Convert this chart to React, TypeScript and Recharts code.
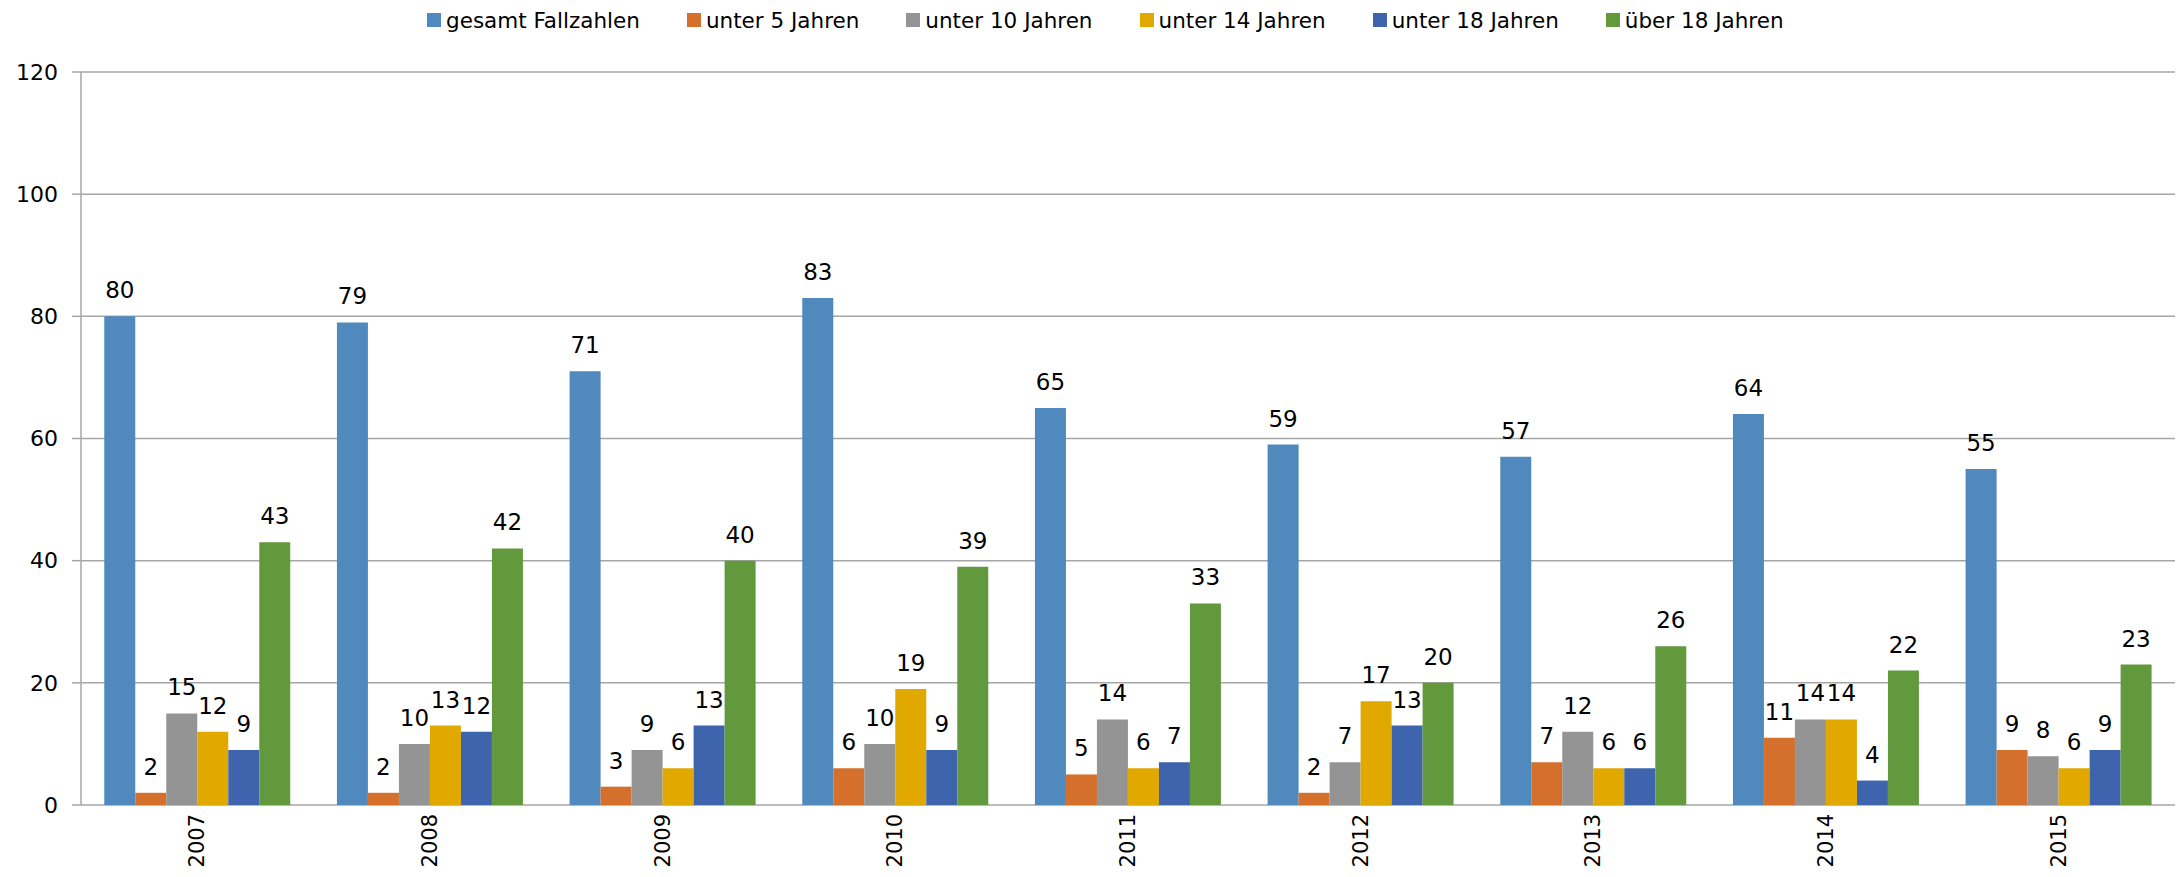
import React from 'react';
import { BarChart, Bar, XAxis, YAxis, CartesianGrid, LabelList } from 'recharts';

const years = ['2007', '2008', '2009', '2010', '2011', '2012', '2013', '2014', '2015'];
const gesamt = [80, 79, 71, 83, 65, 59, 57, 64, 55];
const unter5 = [2, 2, 3, 6, 5, 2, 7, 11, 9];
const unter10 = [15, 10, 9, 10, 14, 7, 12, 14, 8];
const unter14 = [12, 13, 6, 19, 6, 17, 6, 14, 6];
const unter18 = [9, 12, 13, 9, 7, 13, 6, 4, 9];
const ueber18 = [43, 42, 40, 39, 33, 20, 26, 22, 23];
const yTicks = [0, 20, 40, 60, 80, 100, 120];
const boundaryTicks = [0, 1, 2, 3, 4, 5, 6, 7, 8, 9];

const series = [
  { key: 'gesamt', name: 'gesamt Fallzahlen', color: '#4F89BD', values: gesamt },
  { key: 'unter5', name: 'unter 5 Jahren', color: '#D46F2C', values: unter5 },
  { key: 'unter10', name: 'unter 10 Jahren', color: '#949494', values: unter10 },
  { key: 'unter14', name: 'unter 14 Jahren', color: '#E1A900', values: unter14 },
  { key: 'unter18', name: 'unter 18 Jahren', color: '#3D64AD', values: unter18 },
  { key: 'ueber18', name: 'über 18 Jahren', color: '#63993D', values: ueber18 },
];

const data = years.map((year, i) => {
  const row: Record<string, string | number> = { year };
  series.forEach((s) => {
    row[s.key] = s.values[i];
  });
  return row;
});

const FONT = "'DejaVu Sans', Verdana, sans-serif";
const AXIS = '#A6A6A6';

const YearTick = (props: any) => {
  const { x, y, payload } = props;
  return (
    <g transform={`translate(${x},${y})`}>
      <text
        transform="rotate(-90)"
        textAnchor="end"
        dominantBaseline="central"
        fontFamily={FONT}
        fontSize={21}
        fill="#000"
      >
        {payload.value}
      </text>
    </g>
  );
};

const LegendRow = () => (
  <div
    style={{
      position: 'absolute',
      left: 0,
      top: 0,
      width: 2183,
      height: 40,
      display: 'flex',
      alignItems: 'center',
      paddingLeft: 427,
      boxSizing: 'border-box',
      gap: 47,
      fontFamily: FONT,
      fontSize: 21.5,
      color: '#000',
    }}
  >
    {series.map((s) => (
      <div key={s.key} style={{ display: 'flex', alignItems: 'center', whiteSpace: 'nowrap' }}>
        <span style={{ display: 'inline-block', width: 14, height: 14, background: s.color, marginRight: 5 }} />
        <span>{s.name}</span>
      </div>
    ))}
  </div>
);

export default function App() {
  return (
    <div style={{ position: 'absolute', left: 0, top: 0, width: 2183, height: 877, background: '#fff' }}>
      <BarChart
        width={2183}
        height={877}
        data={data}
        margin={{ top: 72, right: 8, bottom: 0, left: 0 }}
        barCategoryGap="10%"
        barGap={0}
      >
        <CartesianGrid xAxisId="cat" vertical={false} stroke={AXIS} strokeWidth={1.5} />
        <XAxis
          xAxisId="edge"
          type="number"
          domain={[0, 9]}
          ticks={boundaryTicks}
          tick={false}
          tickSize={8}
          tickLine={{ stroke: AXIS, strokeWidth: 1.5 }}
          axisLine={{ stroke: AXIS, strokeWidth: 1.5 }}
          height={0}
          allowDataOverflow
        />
        <XAxis
          xAxisId="cat"
          dataKey="year"
          type="category"
          interval={0}
          tickLine={false}
          axisLine={false}
          tickSize={0}
          tickMargin={9}
          height={72}
          tick={<YearTick />}
        />
        <YAxis
          width={81}
          domain={[0, 120]}
          ticks={yTicks}
          interval={0}
          tickSize={9}
          tickMargin={14}
          tickLine={{ stroke: AXIS, strokeWidth: 1.5 }}
          axisLine={{ stroke: AXIS, strokeWidth: 1.5 }}
          tick={{ fontFamily: FONT, fontSize: 22, fill: '#000' }}
        />
        {series.map((s) => (
          <Bar key={s.key} xAxisId="cat" dataKey={s.key} name={s.name} fill={s.color} isAnimationActive={false}>
            <LabelList
              dataKey={s.key}
              position="top"
              offset={18}
              fontFamily={FONT}
              fontSize={23}
              fill="#000"
            />
          </Bar>
        ))}
      </BarChart>
      <LegendRow />
    </div>
  );
}
